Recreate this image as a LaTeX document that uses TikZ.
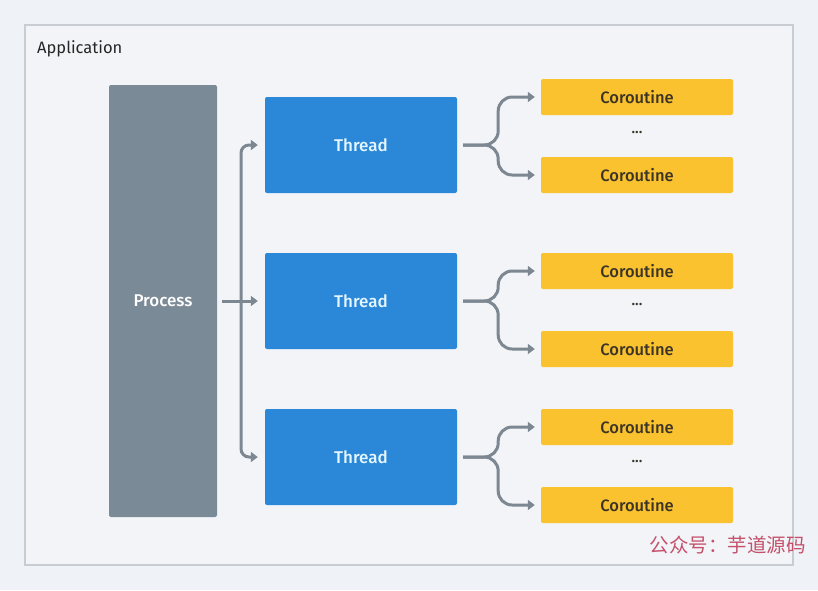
\documentclass[tikz,border=0pt]{standalone}
\usepackage{fontspec}
\setmainfont{Fira Sans}
\newfontfamily\medfont{Fira Sans Medium}
\newfontfamily\cjkfont{Noto Sans CJK SC}
\usepackage{tikz}
\usetikzlibrary{arrows.meta,positioning}

\definecolor{pagebg}{RGB}{239,242,246}
\definecolor{framebg}{RGB}{242,244,248}
\definecolor{framedraw}{RGB}{200,205,212}
\definecolor{procfill}{RGB}{123,138,151}
\definecolor{thrfill}{RGB}{43,135,216}
\definecolor{thrtext}{RGB}{228,246,255}
\definecolor{corfill}{RGB}{249,194,46}
\definecolor{cortext}{RGB}{60,52,40}
\definecolor{linkcol}{RGB}{124,135,145}
\definecolor{markcol}{RGB}{196,80,106}

\begin{document}
\begin{tikzpicture}[x=1pt,y=-1pt,>=Latex,
  procbox/.style={fill=procfill,rounded corners=2pt,minimum width=108pt,minimum height=432pt,inner sep=0pt,text=white,font=\medfont\fontsize{17}{20}\selectfont},
  thrbox/.style={fill=thrfill,rounded corners=2pt,minimum width=192pt,minimum height=96pt,inner sep=0pt,text=thrtext,font=\medfont\fontsize{17}{20}\selectfont},
  corbox/.style={fill=corfill,rounded corners=2pt,minimum width=192pt,minimum height=36pt,inner sep=0pt,text=cortext,font=\medfont\fontsize{16.5}{20}\selectfont},
  dotsnode/.style={text=cortext,font=\medfont\fontsize{15}{16}\selectfont,inner sep=0pt},
  link/.style={draw=linkcol,line width=3pt,-{Triangle[length=7pt,width=10pt]}},
  brace/.style={link,rounded corners=14pt,shorten <=6pt,shorten >=6pt}]

% page and frame
\fill[pagebg] (0,0) rectangle (818,590);
\draw[framedraw,fill=framebg,line width=1.2pt] (25,25) rectangle (793,565);
\node[anchor=west,inner sep=0pt,text=black!85,font=\fontsize{16.5}{20}\selectfont] (app) at (37,49) {Application};

% process and threads
\node[procbox] (proc) at (163,301) {Process};
\node[thrbox] (thr1) at (361,145) {Thread};
\node[thrbox] (thr2) at (361,301) {Thread};
\node[thrbox] (thr3) at (361,457) {Thread};

% coroutines
\node[corbox] (cor1a) at (637,97) {Coroutine};
\node[dotsnode] (dots1) at (637,133) {...};
\node[corbox] (cor1b) at (637,175) {Coroutine};
\node[corbox] (cor2a) at (637,271) {Coroutine};
\node[dotsnode] (dots2) at (637,305) {...};
\node[corbox] (cor2b) at (637,349) {Coroutine};
\node[corbox] (cor3a) at (637,427) {Coroutine};
\node[dotsnode] (dots3) at (637,461) {...};
\node[corbox] (cor3b) at (637,505) {Coroutine};

% process -> threads
\coordinate (fork) at (241,301);
\draw[link,shorten <=5pt,shorten >=7pt] (proc) -- (thr2);
\draw[link,rounded corners=8pt,shorten >=7pt] (fork) |- (thr1.west);
\draw[link,rounded corners=8pt,shorten >=7pt] (fork) |- (thr3.west);

% threads -> coroutines
\draw[brace] (thr1.east) -- ([xshift=41pt]thr1.east) |- (cor1a.west);
\draw[brace] (thr1.east) -- ([xshift=41pt]thr1.east) |- (cor1b.west);
\draw[brace] (thr2.east) -- ([xshift=41pt]thr2.east) |- (cor2a.west);
\draw[brace] (thr2.east) -- ([xshift=41pt]thr2.east) |- (cor2b.west);
\draw[brace] (thr3.east) -- ([xshift=41pt]thr3.east) |- (cor3a.west);
\draw[brace] (thr3.east) -- ([xshift=41pt]thr3.east) |- (cor3b.west);

% watermark
\node[anchor=east,inner sep=0pt,text=markcol,font=\cjkfont\fontsize{19.5}{22}\selectfont] (mark) at (806,545) {公众号：芋道源码};
\end{tikzpicture}
\end{document}
